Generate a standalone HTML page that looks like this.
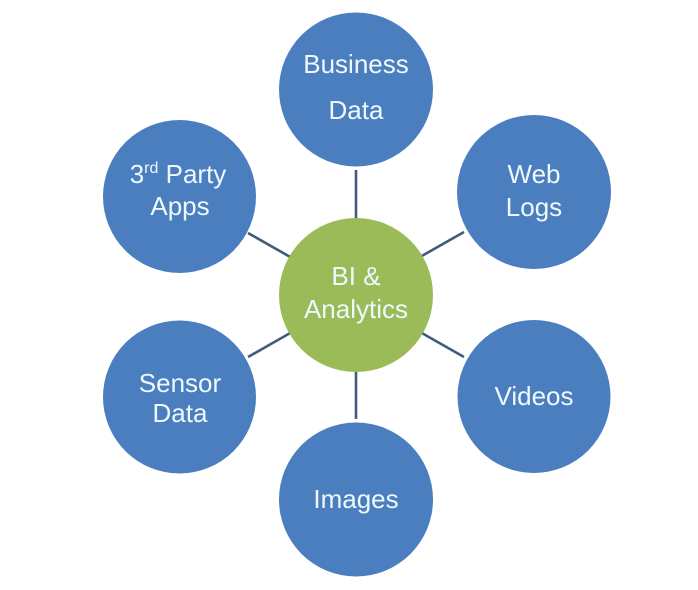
<!DOCTYPE html>
<html>
<head>
<meta charset="utf-8">
<style>
  html, body { margin: 0; padding: 0; background: #ffffff; }
  svg { display: block; }
  text { font-family: "Liberation Sans", "DejaVu Sans", sans-serif; font-size: 26px; fill: #eef9fd; text-anchor: middle; }
</style>
</head>
<body>
<svg width="698" height="590" viewBox="0 0 698 590" xmlns="http://www.w3.org/2000/svg">
  <rect width="698" height="590" fill="#ffffff"/>
  <!-- connectors -->
  <g stroke="#3f5b7d" stroke-width="2.6" stroke-linecap="butt">
    <line x1="356" y1="170" x2="356" y2="222"/>
    <line x1="356" y1="368" x2="356" y2="419"/>
    <line x1="248" y1="233" x2="292" y2="258"/>
    <line x1="464" y1="232" x2="420" y2="257"/>
    <line x1="248" y1="357" x2="292" y2="332"/>
    <line x1="464" y1="357" x2="420" y2="332"/>
  </g>
  <!-- circles -->
  <g fill="#4a7ebe">
    <circle cx="356" cy="89.5" r="77"/>
    <circle cx="179.5" cy="196.5" r="76.5"/>
    <circle cx="534" cy="192" r="77"/>
    <circle cx="179.5" cy="397" r="76.5"/>
    <circle cx="534" cy="396.5" r="76.5"/>
    <circle cx="356" cy="499.5" r="77"/>
  </g>
  <circle cx="356" cy="295" r="77" fill="#9bbb59"/>
  <!-- labels -->
  <text x="356" y="73">Business</text>
  <text x="356" y="119">Data</text>

  <text x="178" y="183">3<tspan font-size="16" dy="-10">rd</tspan><tspan dy="10"> Party</tspan></text>
  <text x="180" y="215">Apps</text>

  <text x="534" y="183">Web</text>
  <text x="534" y="216">Logs</text>

  <text x="356" y="285">BI &amp;</text>
  <text x="356" y="318">Analytics</text>

  <text x="180" y="392">Sensor</text>
  <text x="180" y="422">Data</text>

  <text x="534" y="405">Videos</text>

  <text x="356" y="508">Images</text>
</svg>
</body>
</html>
